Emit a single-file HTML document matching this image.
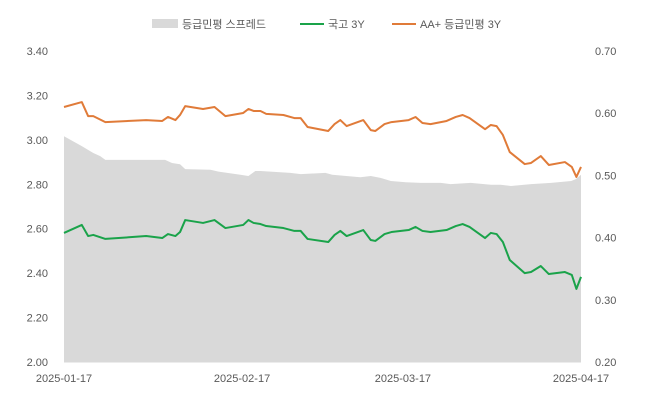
<!DOCTYPE html>
<html><head><meta charset="utf-8"><style>
body{margin:0;background:#fff;font-family:"Liberation Sans","Noto Sans CJK KR",sans-serif}
svg text{font-family:"Liberation Sans","Noto Sans CJK KR",sans-serif;font-size:11px;fill:#595959}
</style></head><body>
<svg width="648" height="407" id="c">
<g>
<rect x="152" y="19" width="26" height="9" fill="#d9d9d9"/>
<text x="182" y="28">등급민평 스프레드</text>
<line x1="300" y1="24" x2="324" y2="24" stroke="#1aa34a" stroke-width="2"/>
<text x="328" y="28">국고 3Y</text>
<line x1="392" y1="24" x2="416" y2="24" stroke="#e07b39" stroke-width="2"/>
<text x="420" y="28">AA+ 등급민평 3Y</text>
</g>
</svg>
<script>
const xTicks=["2025-01-17","2025-02-17","2025-03-17","2025-04-17"];
const xTickDays=[0,31,59,90];
const leftTicks=[2.0,2.2,2.4,2.6,2.8,3.0,3.2,3.4];
const rightTicks=[0.2,0.3,0.4,0.5,0.6,0.7];
const lineDays=[0,3.1,4.2,5.1,7.2,14.3,17.1,18.1,19.4,20.2,21.1,24.2,26.2,28.1,31.2,32.1,33,34.2,35.2,38.2,40.1,41.2,42.4,46,47.1,48.1,49.2,52.1,53.4,54.2,55.8,57,60,61.2,62.4,63.8,66.6,68.2,69.4,70.6,73.3,74.3,75.3,76.4,77.6,80.2,81.3,83,84.4,87.2,88.4,89.2,90];
const aaValues=[3.148,3.170,3.107,3.107,3.080,3.089,3.085,3.103,3.089,3.112,3.152,3.139,3.148,3.107,3.121,3.139,3.130,3.130,3.117,3.112,3.098,3.098,3.058,3.040,3.071,3.089,3.062,3.089,3.044,3.040,3.071,3.080,3.089,3.103,3.076,3.071,3.085,3.103,3.112,3.098,3.048,3.067,3.062,3.022,2.945,2.891,2.896,2.927,2.887,2.900,2.878,2.833,2.878];
const ktbValues=[2.581,2.617,2.567,2.572,2.554,2.567,2.558,2.576,2.567,2.585,2.639,2.626,2.639,2.603,2.617,2.639,2.626,2.621,2.612,2.603,2.590,2.590,2.554,2.540,2.572,2.590,2.567,2.594,2.549,2.545,2.576,2.585,2.594,2.608,2.590,2.585,2.594,2.612,2.621,2.608,2.558,2.581,2.576,2.540,2.459,2.400,2.405,2.432,2.396,2.405,2.392,2.329,2.383];
const spreadDays=[0,3.1,5.1,6.3,7.2,17.6,18.8,20.2,21.1,25.5,26.9,30.7,32.1,33.3,34.2,39.4,41.2,45.5,46.7,51.6,53.4,55.1,56.9,59.5,62.1,65.6,67.3,70.8,74.3,76,77.8,81.3,84.8,88.3,89.1,90];
const spreadValues=[0.563,0.547,0.536,0.531,0.525,0.525,0.520,0.518,0.510,0.509,0.506,0.501,0.499,0.507,0.507,0.504,0.502,0.504,0.501,0.497,0.499,0.496,0.491,0.489,0.488,0.488,0.486,0.488,0.485,0.485,0.483,0.486,0.488,0.491,0.494,0.501];
const NS="http://www.w3.org/2000/svg",svg=document.getElementById('c');
const X0=64,X1=581,Y0=362,Y1=51;
const xs=d=>X0+d/90*(X1-X0);
const yl=v=>Y0-(v-2)/1.4*(Y0-Y1);
const yr=v=>Y0-(v-0.2)/0.5*(Y0-Y1);
function mk(t,a){const e=document.createElementNS(NS,t);for(const k in a)e.setAttribute(k,a[k]);svg.appendChild(e);return e;}
let d='M'+xs(0)+','+Y0;
spreadDays.forEach((x,i)=>{d+=' L'+xs(x)+','+yr(spreadValues[i]);});
d+=' L'+xs(90)+','+Y0+' Z';
const area=mk('path',{d:d,fill:'#d9d9d9'});


function line(vals,col,name){const p=mk('polyline',{points:lineDays.map((x,i)=>xs(x)+','+yl(vals[i])).join(' '),fill:'none',stroke:col,'stroke-width':2,'stroke-linejoin':'round'});

}
line(ktbValues,'#1aa34a','ktb-3y-line');
line(aaValues,'#e07b39','aa-3y-line');
const ax=mk('line',{x1:X0,y1:Y0,x2:X1,y2:Y0,stroke:'#d9d9d9'});


xTicks.forEach((t,i)=>{const e=mk('text',{x:xs(xTickDays[i]),y:382,'text-anchor':'middle'});e.textContent=t;

});
leftTicks.forEach(v=>{const e=mk('text',{x:48,y:yl(v)+4,'text-anchor':'end'});e.textContent=v.toFixed(2);

});
rightTicks.forEach(v=>{const e=mk('text',{x:595,y:yr(v)+4});e.textContent=v.toFixed(2);

});
</script>
</body></html>
